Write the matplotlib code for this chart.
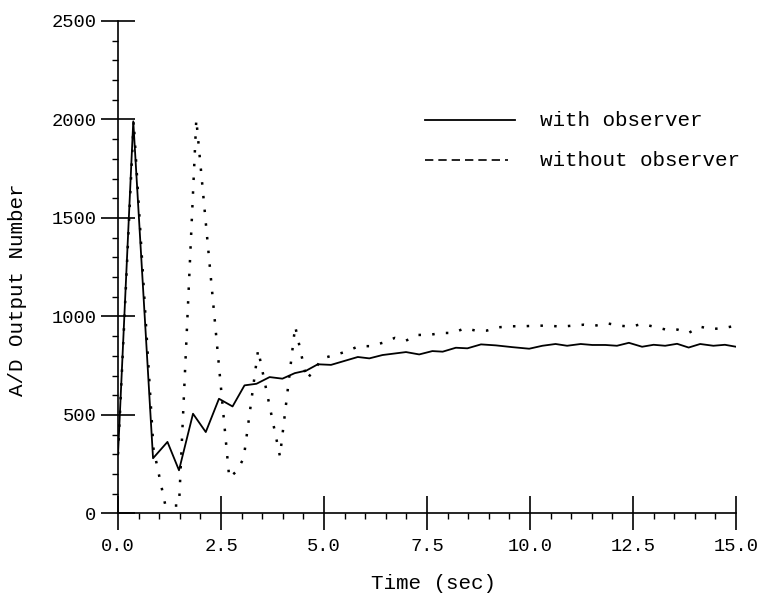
import numpy as np
import matplotlib
matplotlib.use('Agg')
from matplotlib import pyplot as plt
from matplotlib.ticker import MultipleLocator, FormatStrFormatter

plt.rcParams['font.family'] = ['Liberation Mono', 'DejaVu Sans Mono']

# with observer (solid)
t_obs = [0.0, 0.37, 0.85, 1.20, 1.48, 1.82, 2.13, 2.45, 2.78, 3.07, 3.36, 3.68,
         3.99, 4.29, 4.57, 4.85, 5.17, 5.82, 6.10, 6.42, 6.99, 7.31, 7.63, 7.88,
         8.20, 8.48, 8.81, 9.17, 9.57, 9.98, 10.30, 10.62, 10.90, 11.23, 11.51,
         11.83, 12.11, 12.40, 12.72, 13.00, 13.28, 13.57, 13.85, 14.13, 14.45,
         14.73, 15.00]
y_obs = [300, 1990, 280, 363, 219, 506, 413, 582, 543, 650, 658, 692,
         684, 712, 725, 757, 754, 794, 787, 804, 819, 807, 824, 821,
         841, 838, 858, 853, 844, 836, 851, 860, 851, 860, 855,
         855, 851, 866, 846, 856, 851, 861, 842, 860, 851,
         856, 846]

# without observer (dotted)
t_noobs = [0.0, 0.38, 0.86, 1.15, 1.48, 1.90, 2.70, 2.88, 3.05, 3.40, 3.93, 4.30,
           4.58, 4.97, 5.28, 5.56, 5.84, 6.14, 6.42, 6.72, 6.99, 7.27, 7.55, 7.85,
           8.13, 8.42, 8.68, 8.95, 9.25, 9.55, 9.84, 10.15, 10.46, 10.75, 11.03,
           11.31, 11.58, 11.87, 12.17, 12.45, 12.72, 13.00, 13.30, 13.58, 13.85,
           14.12, 14.40, 14.68, 15.00]
y_noobs = [300, 1990, 330, 40, 40, 2000, 180, 215, 280, 830, 290, 950,
           680, 788, 805, 823, 849, 849, 866, 891, 877, 906, 906, 916,
           916, 940, 928, 928, 945, 950, 950, 953, 953, 948, 953,
           958, 953, 965, 953, 948, 962, 948, 933, 933, 916,
           948, 936, 940, 953]

fig = plt.figure(figsize=(7.58, 5.97), dpi=100)
ax = fig.add_axes([0.1557, 0.140, 0.8153, 0.825])

ax.plot(t_obs, y_obs, color='black', lw=1.3)
ax.plot(t_noobs, y_noobs, color='black', lw=1.8, linestyle=(0, (1.0, 4.5)),
        dash_capstyle='butt')

ax.set_xlim(0, 15)
ax.set_ylim(0, 2500)
ax.spines['top'].set_visible(False)
ax.spines['right'].set_visible(False)
for s in ['left', 'bottom']:
    ax.spines[s].set_linewidth(1.2)

ax.xaxis.set_major_locator(MultipleLocator(2.5))
ax.xaxis.set_minor_locator(MultipleLocator(0.5))
ax.xaxis.set_major_formatter(FormatStrFormatter('%.1f'))
ax.yaxis.set_major_locator(MultipleLocator(500))
ax.yaxis.set_minor_locator(MultipleLocator(100))
ax.tick_params(which='major', direction='inout', length=25, width=1.2,
               labelsize=13.5)
ax.tick_params(axis='y', which='major', pad=3)
ax.tick_params(axis='x', which='major', pad=5)
ax.tick_params(which='minor', direction='out', length=4.5, width=1.0)

ax.set_xlabel('Time (sec)', fontsize=15)
ax.xaxis.set_label_coords(0.511, -0.123)
ax.set_ylabel('A/D Output Number', fontsize=15)
ax.yaxis.set_label_coords(-0.147, 0.455)

# legend
ax.plot([0.497, 0.642], [0.798, 0.798], transform=ax.transAxes, color='black', lw=1.3)
ax.text(0.683, 0.798, 'with observer', transform=ax.transAxes, fontsize=15, va='center')
ax.plot([0.497, 0.631], [0.717, 0.717], transform=ax.transAxes, color='black', lw=1.2,
        linestyle=(0, (5, 3)))
ax.text(0.683, 0.717, 'without observer', transform=ax.transAxes, fontsize=15, va='center')

fig.savefig('out.png', dpi=100)
